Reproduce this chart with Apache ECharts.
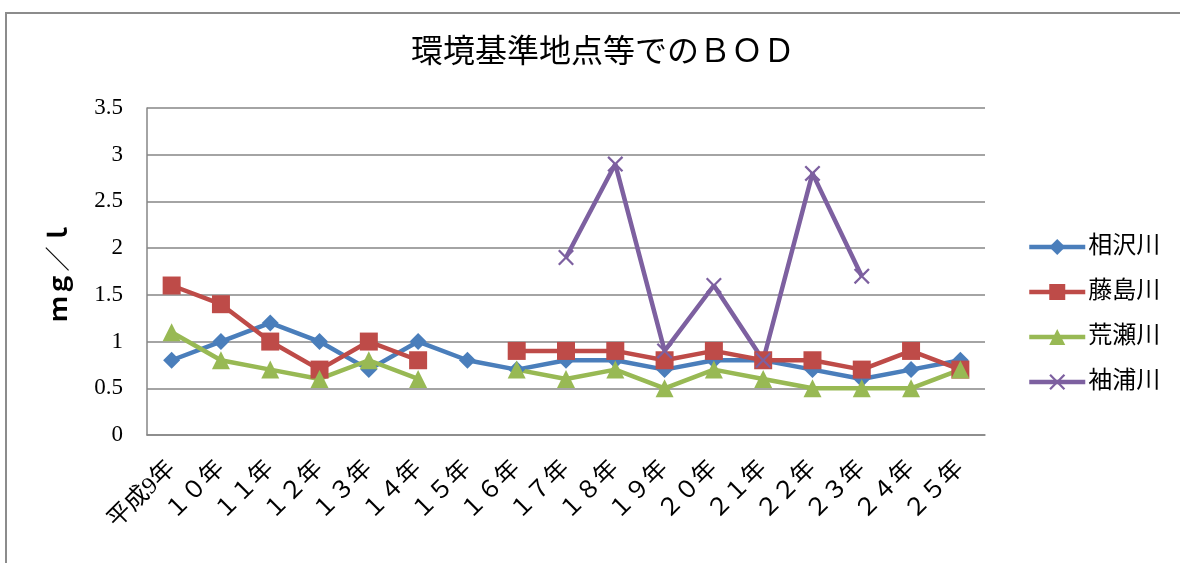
<!DOCTYPE html>
<html>
<head>
<meta charset="utf-8">
<script src="https://cdn.jsdelivr.net/npm/echarts@6/dist/echarts.min.js"></script>
<style>
  html, body { margin: 0; padding: 0; background: #fff; }
  #chart { width: 1180px; height: 563px; }
  #frame {
    position: absolute; left: 5px; top: 12px; width: 1200px; height: 600px;
    border: 2px solid #8c8c8c; pointer-events: none;
  }
</style>
</head>
<body>
<div id="chart"></div>
<div id="frame"></div>
<script>
// 年度
const years = ["平成9年", "１０年", "１１年", "１２年", "１３年", "１４年", "１５年", "１６年", "１７年",
  "１８年", "１９年", "２０年", "２１年", "２２年", "２３年", "２４年", "２５年"];
// 各河川のBOD (mg/l)
const aizawa = [0.8, 1.0, 1.2, 1.0, 0.7, 1.0, 0.8, 0.7, 0.8, 0.8, 0.7, 0.8, 0.8, 0.7, 0.6, 0.7, 0.8];
const fujishima = [1.6, 1.4, 1.0, 0.7, 1.0, 0.8, null, 0.9, 0.9, 0.9, 0.8, 0.9, 0.8, 0.8, 0.7, 0.9, 0.7];
const arase = [1.1, 0.8, 0.7, 0.6, 0.8, 0.6, null, 0.7, 0.6, 0.7, 0.5, 0.7, 0.6, 0.5, 0.5, 0.5, 0.7];
const sodeura = [null, null, null, null, null, null, null, null, 1.9, 2.9, 0.9, 1.6, 0.8, 2.8, 1.7, null, null];
const yTicks = [0, 0.5, 1, 1.5, 2, 2.5, 3, 3.5];

const font = '"Liberation Serif", "Noto Sans CJK JP", serif';
const crossIcon = "path://M0,1 L1,0 L5,4 L9,0 L10,1 L6,5 L10,9 L9,10 L5,6 L1,10 L0,9 L4,5 Z";

let myChart = echarts.init(document.getElementById("chart"));

function line(name, data, color, symbol, size) {
  return {
    name: name,
    type: "line",
    data: data,
    color: color,
    symbol: symbol,
    symbolSize: size,
    showAllSymbol: true,
    lineStyle: { width: 4.5, color: color },
    itemStyle: { color: color },
    emphasis: { disabled: true },
  };
}

let option = {
  animation: false,
  textStyle: { fontFamily: font },
  title: {
    text: "環境基準地点等でのＢＯＤ",
    left: 598,
    textAlign: "center",
    top: 33,
    textStyle: { fontFamily: font, fontSize: 32, fontWeight: "normal", color: "#000" },
  },
  legend: {
    orient: "vertical",
    left: 1022,
    top: 230,
    itemGap: 21,
    itemWidth: 56,
    itemHeight: 20,
    lineStyle: { width: 4.5 },
    textStyle: { fontFamily: font, fontSize: 24, color: "#000", padding: [0, 0, 0, -2] },
    data: ["相沢川", "藤島川", "荒瀬川", "袖浦川"],
  },
  grid: { left: 147, right: 195, top: 108, bottom: 128 },
  xAxis: {
    type: "category",
    data: years,
    boundaryGap: true,
    axisLine: { lineStyle: { color: "#868686", width: 1.5 } },
    axisTick: { show: false },
    axisLabel: { rotate: 45, margin: 30, fontSize: 24, color: "#000", fontFamily: font, interval: 0 },
  },
  yAxis: {
    type: "value",
    min: yTicks[0],
    max: yTicks[yTicks.length - 1],
    interval: 0.5,
    name: "ｍｇ／ｌ",
    nameLocation: "middle",
    nameRotate: 90,
    nameGap: 74,
    nameTextStyle: { fontFamily: font, fontSize: 25, fontWeight: "bold", color: "#000" },
    axisLine: { show: true, lineStyle: { color: "#868686", width: 1.5 } },
    axisTick: { show: false },
    splitLine: { lineStyle: { color: "#868686", width: 1.5 } },
    axisLabel: { margin: 24, fontSize: 23, color: "#000", fontFamily: font },
  },
  series: [
    line("相沢川", aizawa, "#4a7ebb", "diamond", 17),
    line("藤島川", fujishima, "#be4b48", "rect", 18),
    line("荒瀬川", arase, "#98b954", "triangle", 18),
    line("袖浦川", sodeura, "#7d60a0", crossIcon, 16),
  ],
};

option && myChart.setOption(option);
</script>
</body>
</html>
